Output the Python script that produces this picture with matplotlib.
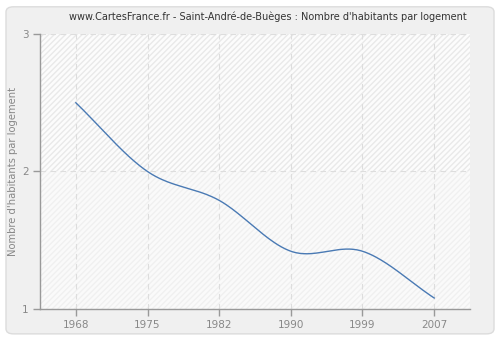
import numpy as np
import matplotlib
matplotlib.use("Agg")
import matplotlib.pyplot as plt
from matplotlib.patches import FancyBboxPatch

years = ["1968", "1975", "1982", "1990", "1999", "2007"]
values = [2.5, 2.0, 1.79, 1.42, 1.42, 1.08]
y_ticks = [1, 2, 3]
title = "www.CartesFrance.fr - Saint-André-de-Buèges : Nombre d'habitants par logement"
ylabel = "Nombre d'habitants par logement"

fig = plt.figure(figsize=(5.0, 3.4), dpi=100)
fig.patch.set_facecolor("white")
frame = FancyBboxPatch((0.012, 0.018), 0.976, 0.962, boxstyle="round,pad=0,rounding_size=0.015",
                       transform=fig.transFigure, facecolor="#f0f0f0", edgecolor="#dcdcdc",
                       linewidth=1.0, zorder=-10)
fig.patches.append(frame)

ax = fig.add_axes([0.08, 0.0912, 0.86, 0.8088])
ax.set_zorder(1)
ax.set_facecolor("#fbfbfb")
ax.set_xlim(-0.5, len(years) - 0.5)
ax.set_ylim(1, 3)

# hatched background bands
ax.axhspan(2, 3, facecolor="#fcfcfc", edgecolor="#e9e9e9", hatch="//////", linewidth=0, zorder=0)
ax.axhspan(1, 2, facecolor="#fafafa", edgecolor="#f0f0f0", hatch="//////", linewidth=0, zorder=0)

# Catmull-Rom smoothing through the data points
x = np.arange(len(values), dtype=float)
y = np.array(values, dtype=float)
n = len(x)
m = np.zeros(n)
for i in range(n):
    if i == 0:
        m[i] = y[1] - y[0]
    elif i == n - 1:
        m[i] = y[-1] - y[-2]
    else:
        m[i] = (y[i + 1] - y[i - 1]) / 2
xs, ys = [], []
for i in range(n - 1):
    t = np.linspace(0, 1, 40)
    h00 = 2 * t**3 - 3 * t**2 + 1
    h10 = t**3 - 2 * t**2 + t
    h01 = -2 * t**3 + 3 * t**2
    h11 = t**3 - t**2
    xs.append(x[i] + t)
    ys.append(h00 * y[i] + h10 * m[i] + h01 * y[i + 1] + h11 * m[i + 1])
xs = np.concatenate(xs)
ys = np.concatenate(ys)
ax.plot(xs, ys, color="#4a7ab4", linewidth=1.0, zorder=3)

ax.set_xticks(x)
ax.set_xticklabels(years)
ax.set_yticks(y_ticks)
ax.set_yticklabels([str(v) for v in y_ticks])

ax.grid(True, color="#dddddd", linestyle=(0, (5, 4)), linewidth=0.8, zorder=1)
ax.set_axisbelow(True)

for s in ["top", "right"]:
    ax.spines[s].set_visible(False)
for s in ["left", "bottom"]:
    ax.spines[s].set_color("#999999")
    ax.spines[s].set_linewidth(1.0)
ax.tick_params(axis="both", colors="#999999", length=5, width=1, labelsize=7.5,
               labelcolor="#888888", direction="out", pad=3)

ax.set_ylabel(ylabel, color="#888888", fontsize=7.2)
ax.yaxis.set_label_coords(-0.05, 0.5)
fig.text(0.535, 0.95, title, ha="center", va="center", fontsize=7.0, color="#333333")

fig.savefig("out.png", dpi=100, facecolor=fig.get_facecolor())
